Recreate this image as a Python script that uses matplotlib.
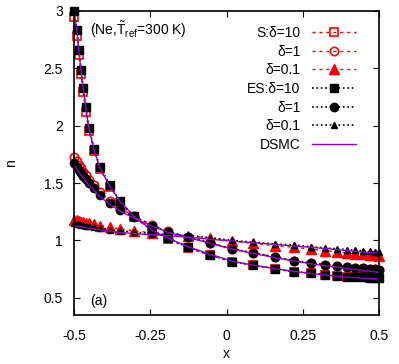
import numpy as np
import matplotlib
matplotlib.use("Agg")
from matplotlib import pyplot as plt

plt.rcParams['font.family'] = ['Liberation Sans', 'DejaVu Sans']
plt.rcParams['mathtext.fontset'] = 'custom'
plt.rcParams['mathtext.rm'] = 'Liberation Sans'
plt.rcParams['mathtext.it'] = 'Liberation Sans:italic'

# grid points (denser near the walls)
x = [-0.500, -0.490, -0.484, -0.477, -0.470, -0.461, -0.451, -0.434, -0.415, -0.382,
     -0.349, -0.303, -0.244, -0.192, -0.126, -0.054, 0.018, 0.087, 0.159, 0.221,
     0.277, 0.323, 0.362, 0.395, 0.421, 0.448, 0.470, 0.487, 0.500]

# S model
s_d10 = [2.95, 2.78, 2.62, 2.45, 2.29, 2.12, 1.95, 1.78, 1.62, 1.47, 1.33, 1.20, 1.085, 1.015,
         0.935, 0.87, 0.815, 0.785, 0.752, 0.726, 0.716, 0.70, 0.692, 0.684, 0.682, 0.678,
         0.675, 0.674, 0.673]
s_d1 = [1.73, 1.69, 1.66, 1.63, 1.60, 1.57, 1.53, 1.48, 1.42, 1.345, 1.28, 1.215, 1.135, 1.08,
        1.03, 0.98, 0.927, 0.892, 0.857, 0.822, 0.805, 0.787, 0.779, 0.770, 0.763, 0.758,
        0.753, 0.748, 0.745]
s_d01 = [1.18, 1.175, 1.17, 1.165, 1.16, 1.155, 1.15, 1.14, 1.13, 1.115, 1.10, 1.085, 1.065,
         1.05, 1.04, 1.02, 0.995, 0.975, 0.955, 0.94, 0.925, 0.91, 0.90, 0.89, 0.885, 0.88,
         0.875, 0.87, 0.865]

# ES model
es_d10 = [3.00, 2.83, 2.66, 2.49, 2.33, 2.16, 1.98, 1.80, 1.64, 1.48, 1.34, 1.21, 1.09, 1.02,
          0.94, 0.875, 0.815, 0.785, 0.753, 0.726, 0.718, 0.70, 0.692, 0.684, 0.683, 0.678,
          0.675, 0.674, 0.673]
es_d1 = [1.676, 1.641, 1.615, 1.589, 1.563, 1.537, 1.502, 1.458, 1.40, 1.328, 1.267, 1.206,
         1.13, 1.075, 1.03, 0.979, 0.927, 0.892, 0.857, 0.822, 0.805, 0.787, 0.779, 0.770,
         0.763, 0.758, 0.753, 0.748, 0.745]
es_d01 = [1.15, 1.145, 1.14, 1.136, 1.132, 1.128, 1.123, 1.115, 1.107, 1.095, 1.085, 1.072,
          1.06, 1.05, 1.045, 1.025, 1.0, 0.985, 0.97, 0.96, 0.945, 0.935, 0.927, 0.92, 0.915,
          0.91, 0.905, 0.90, 0.90]

# DSMC
dsmc_d10 = [3.00, 2.82, 2.65, 2.48, 2.32, 2.15, 1.97, 1.79, 1.63, 1.47, 1.34, 1.21, 1.09, 1.02,
            0.945, 0.88, 0.82, 0.785, 0.755, 0.73, 0.712, 0.698, 0.688, 0.68, 0.675, 0.671,
            0.668, 0.666, 0.665]
dsmc_d1 = [1.66, 1.62, 1.595, 1.57, 1.545, 1.515, 1.48, 1.435, 1.38, 1.315, 1.255, 1.195,
           1.125, 1.07, 1.025, 0.975, 0.925, 0.887, 0.85, 0.82, 0.797, 0.78, 0.767, 0.756,
           0.747, 0.739, 0.732, 0.726, 0.72]
dsmc_d01 = [1.13, 1.127, 1.124, 1.12, 1.117, 1.113, 1.108, 1.10, 1.092, 1.08, 1.07, 1.06,
            1.05, 1.04, 1.03, 1.01, 0.995, 0.98, 0.965, 0.952, 0.94, 0.93, 0.92, 0.912,
            0.906, 0.90, 0.895, 0.892, 0.89]

red = "#ff0000"
purple = "#9400d3"
dash = (0, (2.2, 2.8))
fs = 10

fig = plt.figure(figsize=(3.99, 3.64), dpi=100)
ax = fig.add_axes([0.1855, 0.1346, 0.7645, 0.8352])

ax.plot(x, s_d10, color=red, ls=dash, lw=1, marker='s', ms=6, mfc='none', mew=1.2,
        label=u"S:\u03b4=10", clip_on=False)
ax.plot(x, s_d1, color=red, ls=dash, lw=1, marker='o', ms=6, mfc='none', mew=1.2,
        label=u"\u03b4=1", clip_on=False)
ax.plot(x, s_d01, color=red, ls=dash, lw=1, marker='^', ms=7, label=u"\u03b4=0.1",
        clip_on=False)
ax.plot(x, es_d10, color='k', ls=':', lw=1.2, marker='s', ms=5.5, label=u"ES:\u03b4=10",
        clip_on=False)
ax.plot(x, es_d1, color='k', ls=':', lw=1.2, marker='o', ms=6, label=u"\u03b4=1",
        clip_on=False)
ax.plot(x, es_d01, color='k', ls=':', lw=1.2, marker='^', ms=5, label=u"\u03b4=0.1",
        clip_on=False)
ax.plot(x, dsmc_d10, color=purple, lw=1, label="DSMC")
ax.plot(x, dsmc_d1, color=purple, lw=1)
ax.plot(x, dsmc_d01, color=purple, lw=1)

ax.set_xlim(-0.5, 0.5)
ax.set_ylim(0.35, 3.0)
ax.set_xticks([-0.5, -0.25, 0, 0.25, 0.5])
ax.set_xticklabels(["-0.5", "-0.25", "0", "0.25", "0.5"])
ax.set_yticks([0.5, 1, 1.5, 2, 2.5, 3])
ax.set_yticklabels(["0.5", "1", "1.5", "2", "2.5", "3"])
ax.tick_params(direction='in', top=True, right=True, length=4, labelsize=fs)
ax.tick_params(axis='x', pad=10)
ax.tick_params(axis='y', pad=8)
for s in ax.spines.values():
    s.set_linewidth(1.2)

ax.set_xlabel("x", fontsize=fs, labelpad=3)
ax.set_ylabel("n", fontsize=fs, labelpad=18)

ax.text(0.052, 0.94, r"(Ne,$\tilde{\mathrm{T}}_{\mathrm{ref}}$=300 K)", transform=ax.transAxes,
        fontsize=fs, va='center', ha='left')
ax.text(0.052, 0.046, "(a)", transform=ax.transAxes, fontsize=fs, va='center', ha='left')

ax.legend(loc='upper right', bbox_to_anchor=(0.925, 0.95), frameon=False, markerfirst=False,
          fontsize=fs, handlelength=3.2, handletextpad=0.8, labelspacing=0.33, borderpad=0,
          borderaxespad=0, numpoints=1)

fig.savefig("out.png", dpi=100)
